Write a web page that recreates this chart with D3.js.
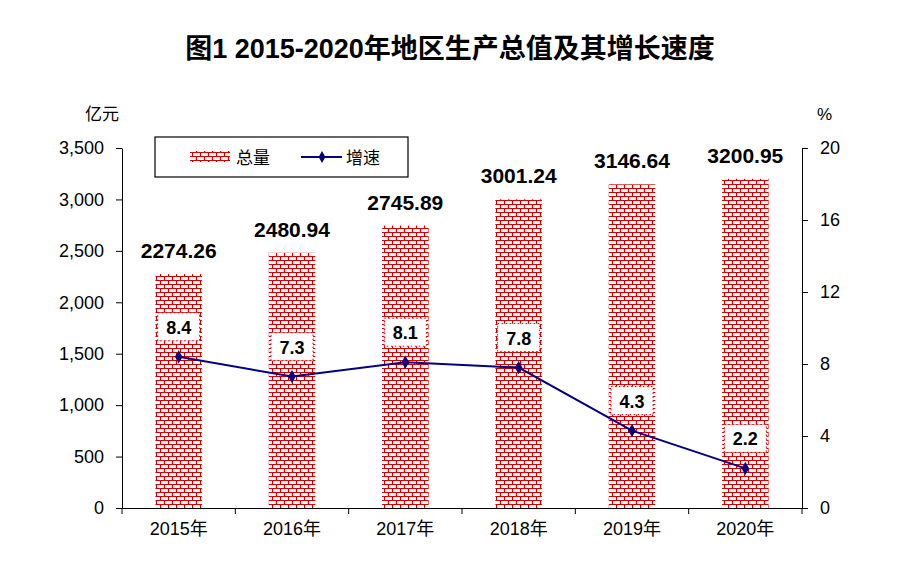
<!DOCTYPE html>
<html><head><meta charset="utf-8">
<script src="https://cdn.jsdelivr.net/npm/d3@7"></script>
<style>body{margin:0;background:#fff}text{font-family:Arial,"Liberation Sans","Noto Sans CJK SC",sans-serif}</style>
</head><body><div id="c"></div>
<script>
const years = ["2015年","2016年","2017年","2018年","2019年","2020年"];
const totals = [2274.26,2480.94,2745.89,3001.24,3146.64,3200.95];
const growth = [8.4,7.3,8.1,7.8,4.3,2.2];
const leftTicks = [0,500,1000,1500,2000,2500,3000,3500];
const rightTicks = [0,4,8,12,16,20];

const w = 900, h = 572;
const pLeft = 122, pRight = 802, pTop = 148, pBottom = 508;
const svg = d3.select("#c").append("svg").attr("width", w).attr("height", h);

const defs = svg.append("defs");
const pat = defs.append("pattern").attr("id","brick").attr("patternUnits","userSpaceOnUse")
  .attr("width",8).attr("height",8);
pat.append("rect").attr("width",8).attr("height",8).attr("fill","#fff");
const bp = "M0,0.5H8M0,4.5H8M0.5,0V4M4.5,4V8";
pat.append("path").attr("d",bp).attr("stroke","#d40000").attr("stroke-width",1.2).attr("fill","none");

svg.append("text").attr("x",450).attr("y",58).attr("text-anchor","middle")
  .attr("font-size",27).attr("font-weight","bold").text("图1  2015-2020年地区生产总值及其增长速度");

const x = d3.scaleBand().domain(years).range([pLeft,pRight]).paddingInner(0.59).paddingOuter(0.295);
const y = d3.scaleLinear().domain([0,3500]).range([pBottom,pTop]);
const y2 = d3.scaleLinear().domain([0,20]).range([pBottom,pTop]);

const xAxis = svg.append("g").attr("transform",`translate(0,${pBottom})`)
  .call(d3.axisBottom(x).tickSize(0).tickPadding(14).tickSizeOuter(0));
xAxis.select(".domain").attr("stroke","#000");
xAxis.selectAll("text").attr("font-size",18).attr("fill","#000");
svg.append("g").selectAll("line").data(d3.range(7)).join("line")
  .attr("x1",i=>pLeft+i*(pRight-pLeft)/6).attr("x2",i=>pLeft+i*(pRight-pLeft)/6)
  .attr("y1",pBottom).attr("y2",pBottom+6).attr("stroke","#000");

const yAxis = svg.append("g").attr("transform",`translate(${pLeft},0)`)
  .call(d3.axisLeft(y).tickValues(leftTicks).tickSize(6).tickPadding(12).tickSizeOuter(0));
yAxis.selectAll("text").attr("font-size",18).attr("fill","#000");
const yAxis2 = svg.append("g").attr("transform",`translate(${pRight},0)`)
  .call(d3.axisRight(y2).tickValues(rightTicks).tickSize(6).tickPadding(12).tickSizeOuter(0));
yAxis2.selectAll("text").attr("font-size",18).attr("fill","#000");

svg.append("text").attr("x",85).attr("y",120).attr("font-size",17).text("亿元");
svg.append("text").attr("x",817).attr("y",120).attr("font-size",17).text("%");

svg.selectAll(".bar").data(totals).join("rect").attr("class","bar")
  .attr("x",(d,i)=>x(years[i])).attr("y",d=>y(d))
  .attr("width",x.bandwidth()).attr("height",d=>pBottom-y(d)).attr("fill","url(#brick)");

svg.selectAll(".vlab").data(totals).join("text").attr("class","vlab")
  .attr("x",(d,i)=>x(years[i])+x.bandwidth()/2).attr("y",d=>y(d)-16)
  .attr("text-anchor","middle").attr("font-size",21).attr("font-weight","bold")
  .text(d=>d.toFixed(2));

const cx = (d,i)=>x(years[i])+x.bandwidth()/2;
svg.append("path").datum(growth)
  .attr("d",d3.line().x(cx).y(d=>y2(d)))
  .attr("fill","none").attr("stroke","#000080").attr("stroke-width",2);
svg.selectAll(".pt").data(growth).join("path").attr("class","pt")
  .attr("d",d3.symbol(d3.symbolDiamond,50))
  .attr("transform",(d,i)=>`translate(${cx(d,i)},${y2(d)})`).attr("fill","#000080");

const gl = svg.selectAll(".gl").data(growth).join("g").attr("class","gl")
  .attr("transform",(d,i)=>`translate(${cx(d,i)},${y2(d)-30})`);
gl.append("rect").attr("x",-21).attr("y",-14).attr("width",42).attr("height",28)
  .attr("fill","#fff").attr("stroke","#d40000").attr("stroke-dasharray","1.5,2.5");
gl.append("text").attr("y",7).attr("text-anchor","middle").attr("font-size",18)
  .attr("font-weight","bold").text(d=>d.toFixed(1));

const lg = svg.append("g");
lg.append("rect").attr("x",155).attr("y",137).attr("width",253).attr("height",40)
  .attr("fill","#fff").attr("stroke","#000").attr("stroke-width",1.2);
lg.append("rect").attr("x",190).attr("y",151).attr("width",40).attr("height",11).attr("fill","url(#brick)");
lg.append("text").attr("x",236).attr("y",164).attr("font-size",17).text("总量");
lg.append("line").attr("x1",301).attr("x2",342).attr("y1",157).attr("y2",157).attr("stroke","#000080").attr("stroke-width",2);
lg.append("path").attr("d",d3.symbol(d3.symbolDiamond,40)).attr("transform","translate(322,157)").attr("fill","#000080");
lg.append("text").attr("x",346).attr("y",164).attr("font-size",17).text("增速");
</script></body></html>
